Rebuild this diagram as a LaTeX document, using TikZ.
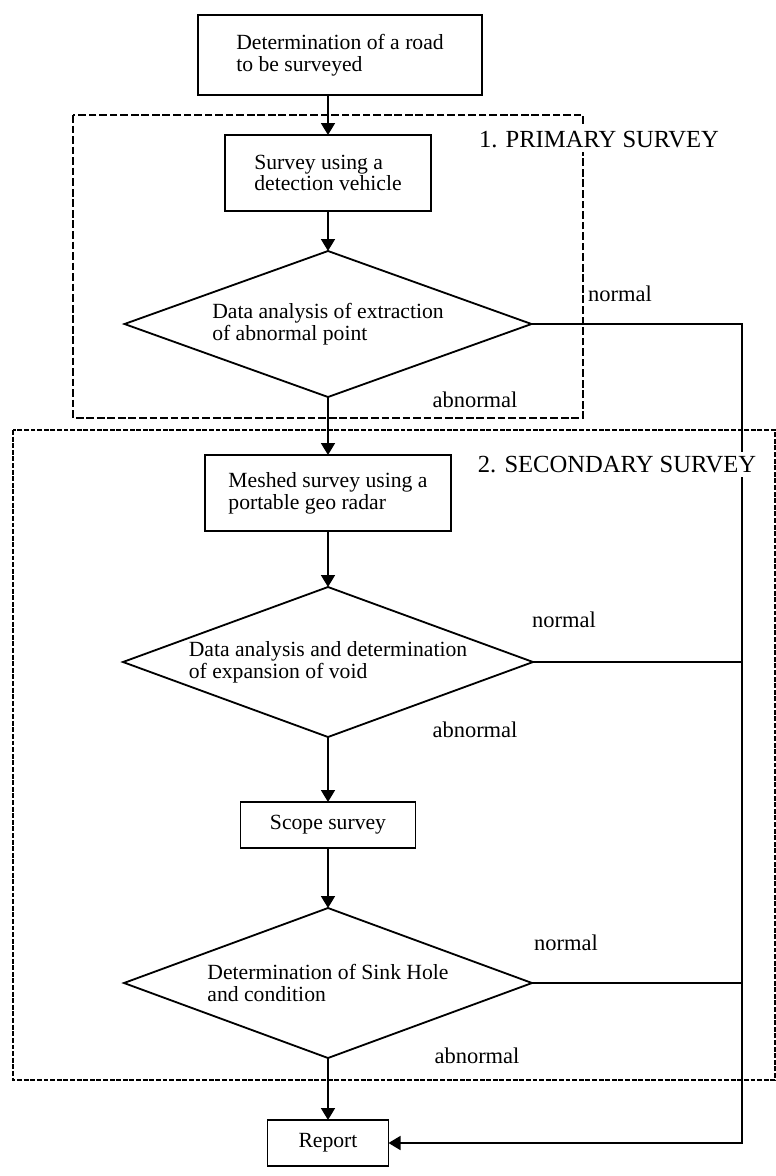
\documentclass[tikz,border=0pt]{standalone}
\usepackage{fontspec}
\setmainfont{Liberation Serif}
\usetikzlibrary{arrows.meta,positioning,shapes.geometric}

\begin{document}
\begin{tikzpicture}[
        procbox/.style={draw, rectangle, line width=1.3pt, align=left, inner sep=2pt, outer sep=0pt, font=\fontsize{15.4}{15.5}\selectfont},
        decision/.style={draw, diamond, aspect=2.7, line width=1.3pt, align=left, inner sep=1pt, outer sep=0pt, minimum width=10.2cm, minimum height=3.75cm, font=\fontsize{15.4}{15.5}\selectfont},
        flow/.style={-{Triangle[width=0.35cm,length=0.3cm]}, line width=1.3pt},
        branch/.style={line width=1.1pt},
        primframe/.style={line width=0.9pt, dash pattern=on 5.5pt off 2pt},
        secframe/.style={line width=0.9pt, dash pattern=on 3.5pt off 1.2pt},
        tag/.style={font=\fontsize{16}{16}\selectfont, inner sep=1pt, anchor=base},
        heading/.style={font=\fontsize{17.5}{17.5}\selectfont, fill=white, inner xsep=1pt, inner ysep=3pt, anchor=base}
    ]
    \useasboundingbox (0,0) rectangle (19.4,-29.4);

    % Primary survey
    \node[procbox, minimum width=7.1cm, minimum height=2cm] (road) at (8.5,-1.375)
        {Determination of a road\\to be surveyed};
    \node[procbox, minimum width=5.15cm, minimum height=1.9cm, below=1cm of road, xshift=-0.3cm] (vehicle)
        {Survey using a\\detection vehicle};
    \node[decision, minimum width=10.175cm, minimum height=3.65cm, below=1cm of vehicle] (extract)
        {Data analysis of extraction\\of abnormal point};

    % Secondary survey
    \node[procbox, minimum width=6.15cm, minimum height=1.9cm, below=1.45cm of extract] (radar)
        {Meshed survey using a\\portable geo radar};
    \node[decision, minimum width=10.25cm, below=1.4cm of radar] (expansion)
        {Data analysis and determination\\of expansion of void};
    \node[procbox, minimum width=4.375cm, minimum height=1.15cm, below=1.625cm of expansion] (scope)
        {Scope survey};
    \node[decision, below=1.5cm of scope] (sinkhole)
        {Determination of Sink Hole\\and condition};

    % Output
    \node[procbox, minimum width=3.025cm, minimum height=1.15cm, below=1.55cm of sinkhole] (report)
        {Report};

    % Survey frames
    \draw[primframe] (1.825,-2.875) rectangle (14.575,-10.45);
    \draw[secframe] (0.325,-10.75) rectangle (19.375,-27.0);

    % Main flow
    \draw[flow] (road.south -| vehicle.north) -- (vehicle.north);
    \draw[flow] (vehicle) -- (extract);
    \draw[flow] (extract) -- (radar);
    \draw[flow] (radar) -- (expansion);
    \draw[flow] (expansion) -- (scope);
    \draw[flow] (scope) -- (sinkhole);
    \draw[flow] (sinkhole) -- (report);

    % Normal branches
    \coordinate (rail) at (18.55,0);
    \draw[branch, -{Triangle[width=0.35cm,length=0.3cm]}] (extract.east) -- (extract.east -| rail) |- (report.east);
    \draw[branch] (expansion.east) -- (expansion.east -| rail);
    \draw[branch] (sinkhole.east) -- (sinkhole.east -| rail);

    % Labels
    \node[tag] (normal1) at (15.5,-7.525) {normal};
    \node[tag] (abnormal1) at (11.875,-10.175) {abnormal};
    \node[tag] (normal2) at (14.1,-15.675) {normal};
    \node[tag] (abnormal2) at (11.875,-18.425) {abnormal};
    \node[tag] (normal3) at (14.15,-23.75) {normal};
    \node[tag] (abnormal3) at (11.925,-26.575) {abnormal};
    \node[heading] (primary) at (14.975,-3.675) {1. PRIMARY SURVEY};
    \node[heading] (secondary) at (15.425,-11.8) {2. SECONDARY SURVEY};
\end{tikzpicture}
\end{document}
